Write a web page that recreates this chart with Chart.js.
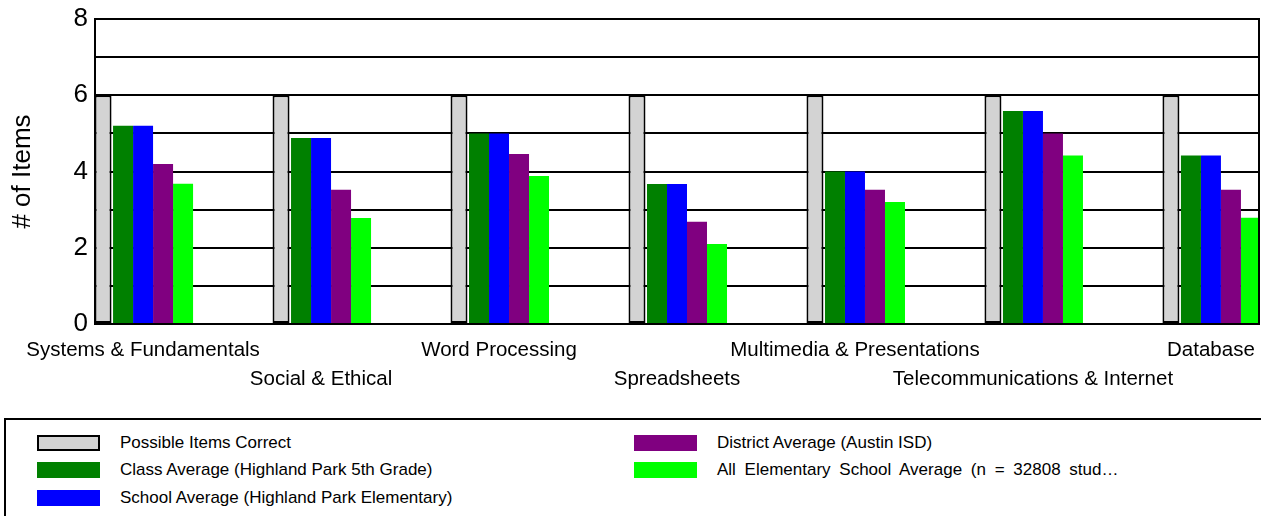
<!DOCTYPE html>
<html>
<head>
<meta charset="utf-8">
<script src="https://cdn.jsdelivr.net/npm/chart.js@4.4.0/dist/chart.umd.min.js"></script>
<style>
  html, body { margin: 0; padding: 0; background: #fff; overflow: hidden; }
  body { width: 1261px; height: 516px; position: relative; font-family: "Liberation Sans", Arial, sans-serif; }
  #wrap { position: absolute; left: 0; top: 0; width: 1261px; height: 410px; }
  #legend {
    position: absolute; left: 4px; top: 418px; width: 1270px; height: 120px;
    border: 2px solid #000; box-sizing: border-box;
  }
  .item { position: absolute; display: flex; align-items: center; font-size: 17px; color: #000; white-space: nowrap; }
  .sw { width: 63px; height: 16px; box-sizing: border-box; margin-right: 20px; }
</style>
</head>
<body>
<div id="wrap"><canvas id="c" width="1261" height="410"></canvas></div>
<div id="legend"></div>
<script>
const categories = ['Systems & Fundamentals', 'Social & Ethical', 'Word Processing', 'Spreadsheets',
  'Multimedia & Presentations', 'Telecommunications & Internet', 'Database'];
const seriesNames = ['Possible Items Correct', 'Class Average (Highland Park 5th Grade)',
  'School Average (Highland Park Elementary)', 'District Average (Austin ISD)',
  'All Elementary School Average (n = 32808 stud\u2026'];
const possible = [6, 6, 6, 6, 6, 6, 6];
const classAvg = [5.2, 4.88, 5.0, 3.67, 4.0, 5.59, 4.42];
const schoolAvg = [5.2, 4.88, 5.0, 3.67, 4.0, 5.59, 4.42];
const districtAvg = [4.2, 3.52, 4.46, 2.68, 3.52, 5.0, 3.52];
const allElemAvg = [3.68, 2.78, 3.88, 2.1, 3.2, 4.42, 2.79];
const yTicks = [0, 2, 4, 6, 8];
const colors = ['#d3d3d3', '#008000', '#0000ff', '#800080', '#00ff00'];

const series = [possible, classAvg, schoolAvg, districtAvg, allElemAvg];

const frame = {
  id: 'frame',
  afterDatasetsDraw(chart) {
    const a = chart.chartArea, ctx = chart.ctx;
    ctx.save();
    ctx.strokeStyle = '#000';
    ctx.lineWidth = 2;
    ctx.strokeRect(a.left, a.top, a.right - a.left, a.bottom - a.top);
    ctx.restore();
  }
};

new Chart(document.getElementById('c'), {
  type: 'bar',
  data: {
    datasets: series.map((vals, i) => ({
      label: seriesNames[i],
      data: vals.map((v, j) => ({ x: j, y: v })),
      backgroundColor: colors[i],
      borderColor: i === 0 ? '#000' : colors[i],
      borderWidth: i === 0 ? 2 : 0,
      borderSkipped: false,
      barPercentage: i === 0 ? 0.85 : 1,
      categoryPercentage: 0.562,
      clip: 0
    }))
  },
  options: {
    responsive: false,
    animation: false,
    layout: { padding: { top: 19, right: 2, left: 0, bottom: 0 } },
    plugins: { legend: { display: false }, tooltip: { enabled: false } },
    scales: {
      x: {
        type: 'linear',
        offset: false,
        min: -0.27,
        max: 6.27,
        grid: { display: false, drawTicks: false },
        border: { display: true, color: '#000', width: 2 },
        afterBuildTicks: axis => { axis.ticks = categories.map((c, i) => ({ value: i })); },
        afterFit: axis => {
          axis.height = 86;
          axis.paddingLeft = 0;
          axis.paddingRight = 0;
        },
        ticks: {
          autoSkip: false,
          maxRotation: 0,
          padding: 12,
          color: '#000',
          font: { family: 'Liberation Sans', size: 20.5, lineHeight: 1.415 },
          callback: v => (v % 2 === 1 ? ['', categories[v]] : categories[v])
        }
      },
      y: {
        min: 0,
        max: 8,
        afterBuildTicks: axis => {
          axis.ticks = [0, 1, 2, 3, 4, 5, 6, 7, 8].map(v => ({ value: v }));
        },
        afterFit: axis => {
          axis.width = 95;
          axis.paddingTop = 0;
          axis.paddingBottom = 0;
        },
        grid: { color: '#000', lineWidth: 2, drawTicks: false },
        border: { display: true, color: '#000', width: 2 },
        ticks: {
          padding: 7,
          color: '#000',
          font: { family: 'Liberation Sans', size: 26 },
          callback: v => (yTicks.includes(v) ? v : '')
        },
        title: {
          display: true,
          text: '# of Items',
          color: '#000',
          padding: { top: 7, bottom: 0 },
          font: { family: 'Liberation Sans', size: 26 }
        }
      }
    }
  },
  plugins: [frame]
});

const legend = document.getElementById('legend');
const pos = [[31, 13], [31, 40], [31, 68], [628, 13], [628, 40]];
seriesNames.forEach((name, i) => {
  const d = document.createElement('div');
  d.className = 'item';
  d.style.left = pos[i][0] + 'px';
  d.style.top = pos[i][1] + 'px';
  const sw = document.createElement('span');
  sw.className = 'sw';
  sw.style.background = colors[i];
  if (i === 0) sw.style.border = '2px solid #000';
  const t = document.createElement('span');
  t.textContent = name;
  if (i === 4) t.style.wordSpacing = '4px';
  d.appendChild(sw);
  d.appendChild(t);
  legend.appendChild(d);
});
</script>
</body>
</html>
